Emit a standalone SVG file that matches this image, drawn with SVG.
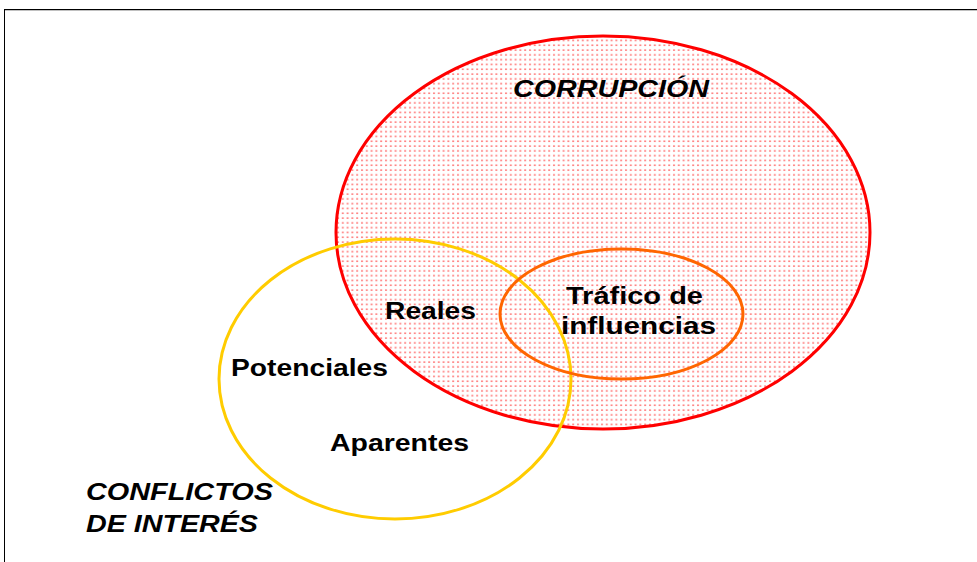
<svg xmlns="http://www.w3.org/2000/svg" width="977" height="562" viewBox="0 0 977 562">
<defs>
<pattern id="dots" x="0" y="0" width="4.8" height="4.8" patternUnits="userSpaceOnUse">
<rect x="1" y="1.5" width="2" height="1.1" fill="#ff4a4a"/>
</pattern>
</defs>
<style>
.lbl{font-family:"Liberation Sans",Arial,sans-serif;font-weight:bold;font-size:24px;fill:#000}
.it{font-style:italic}
.ring{fill:none;stroke-width:3}
</style>
<rect width="977" height="562" fill="#fff"/>
<g id="frame">
<line x1="4" y1="9.5" x2="977" y2="9.5" stroke="#000" stroke-width="1"/>
<line x1="5" y1="10.5" x2="977" y2="10.5" stroke="#c0c0c0" stroke-width="1"/>
<line x1="4.5" y1="9" x2="4.5" y2="562" stroke="#000" stroke-width="1"/>
</g>
<g id="corrupcion">
<ellipse cx="603" cy="232.5" rx="267" ry="196.5" fill="url(#dots)"/>
<ellipse class="ring" cx="603" cy="232.5" rx="267" ry="196.5" stroke="#ff0000"/>
<text class="lbl it" x="513" y="97" textLength="196" lengthAdjust="spacingAndGlyphs">CORRUPCIÓN</text>
</g>
<g id="conflictos">
<ellipse class="ring" cx="395" cy="379" rx="176" ry="140" stroke="#ffcc00"/>
<text class="lbl it" x="86" y="500" textLength="187" lengthAdjust="spacingAndGlyphs">CONFLICTOS</text>
<text class="lbl it" x="86" y="532" textLength="172" lengthAdjust="spacingAndGlyphs">DE INTERÉS</text>
</g>
<g id="trafico">
<ellipse class="ring" cx="621.5" cy="314" rx="121.5" ry="65" stroke="#ff6600" stroke-width="3.5"/>
<text class="lbl" x="566" y="304" textLength="137" lengthAdjust="spacingAndGlyphs">Tráfico de</text>
<text class="lbl" x="561" y="334" textLength="155" lengthAdjust="spacingAndGlyphs">influencias</text>
</g>
<g id="reales"><text class="lbl" x="385" y="319" textLength="91" lengthAdjust="spacingAndGlyphs">Reales</text></g>
<g id="potenciales"><text class="lbl" x="231" y="376" textLength="157" lengthAdjust="spacingAndGlyphs">Potenciales</text></g>
<g id="aparentes"><text class="lbl" x="330" y="451" textLength="139" lengthAdjust="spacingAndGlyphs">Aparentes</text></g>
<g id="connectors"></g>
</svg>
